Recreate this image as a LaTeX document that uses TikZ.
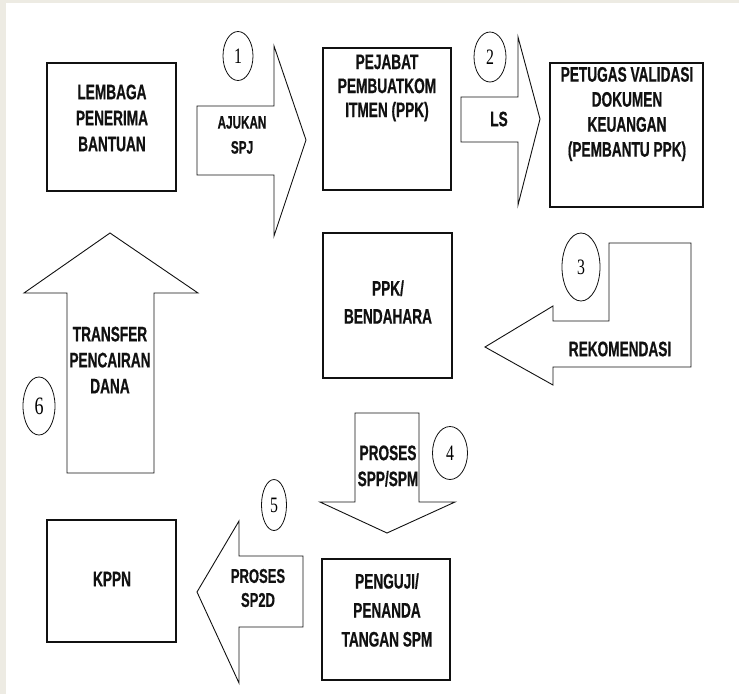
\documentclass[tikz,border=0pt]{standalone}
\usepackage{fontspec}
\setmainfont{Liberation Sans}
\newfontfamily\boxfont{Liberation Sans}[FakeStretch=0.65,BoldFeatures={FakeBold=0.6}]
\newfontfamily\numfont{Liberation Serif}[FakeStretch=0.72]
\usetikzlibrary{shapes.geometric}
\definecolor{framegray}{HTML}{EDEBE3}
\definecolor{inkblack}{HTML}{111111}
\tikzset{
  unitbox/.style={draw=inkblack,line width=2pt,rectangle,inner sep=0pt},
  blockarrow/.style={draw=inkblack,line width=0.9pt,fill=white,line join=miter},
  lbl/.style={align=center,inner sep=0pt,text=inkblack,
    font=\boxfont\bfseries\fontsize{21}{26}\selectfont},
  smalllbl/.style={lbl,font=\boxfont\bfseries\fontsize{18}{25}\selectfont},
  numcirc/.style={ellipse,draw=inkblack,line width=0.8pt,inner sep=0pt,
    font=\numfont\fontsize{22}{22}\selectfont}
}
\begin{document}
\begin{tikzpicture}[x=1pt,y=-1pt]
\useasboundingbox (0,0) rectangle (739,694);
\fill[framegray] (0,0) rectangle (739,694);
\fill[white] (6,3) rectangle (739,694);

% boxes
\node[unitbox,minimum width=129,minimum height=128] (lembaga) at (111.5,127) {};
\node[unitbox,minimum width=128,minimum height=142] (pejabat) at (387,119) {};
\node[unitbox,minimum width=153,minimum height=144] (petugas) at (626.5,135) {};
\node[unitbox,minimum width=129,minimum height=145] (bendahara) at (387.5,305.5) {};
\node[unitbox,minimum width=129,minimum height=122] (kppn) at (111.5,581) {};
\node[unitbox,minimum width=128,minimum height=121] (penguji) at (386,619.5) {};

% block arrows
\draw[blockarrow] (197,106) -- (274,106) -- (274,46) -- (306,140)
  -- (274,236) -- (274,175) -- (197,175) -- cycle;
\draw[blockarrow] (461,97) -- (518,97) -- (518,37) -- (540,119)
  -- (518,205) -- (518,142) -- (461,142) -- cycle;
\draw[blockarrow] (691,243) -- (609,243) -- (609,321) -- (553,321)
  -- (553,306) -- (485,347) -- (553,385) -- (553,367) -- (691,367) -- cycle;
\draw[blockarrow] (355,413) -- (419,413) -- (419,502) -- (455,502)
  -- (387,533) -- (320,502) -- (355,502) -- cycle;
\draw[blockarrow] (303,556) -- (239,556) -- (239,521) -- (197,592)
  -- (239,683) -- (239,627) -- (303,627) -- cycle;
\draw[blockarrow] (67,473) -- (67,293) -- (24,293) -- (110,233)
  -- (198,293) -- (154,293) -- (154,473) -- cycle;

% box texts
\node[lbl] (lembagatxt) at (112,118) {LEMBAGA\\PENERIMA\\BANTUAN};
\node[lbl,font=\boxfont\bfseries\fontsize{21}{24}\selectfont] (pejabattxt) at (387,88) {PEJABAT\\PEMBUATKOM\\ITMEN (PPK)};
\node[lbl,font=\boxfont\bfseries\fontsize{21}{25}\selectfont] (petugastxt) at (627,114) {PETUGAS VALIDASI\\DOKUMEN\\KEUANGAN\\(PEMBANTU PPK)};
\node[lbl,font=\boxfont\bfseries\fontsize{21}{28}\selectfont] (bendaharatxt) at (388,302) {PPK/\\BENDAHARA};
\node[lbl] (kppntxt) at (112,579) {KPPN};
\node[lbl,font=\boxfont\bfseries\fontsize{21}{29}\selectfont] (pengujitxt) at (387,610) {PENGUJI/\\PENANDA\\TANGAN SPM};

% arrow texts
\node[smalllbl] (ajukan) at (242,135) {AJUKAN\\SPJ};
\node[lbl] (ls) at (499,119) {LS};
\node[lbl] (rekomendasi) at (620,349) {REKOMENDASI};
\node[lbl] (prosesspm) at (388,466) {PROSES\\SPP/SPM};
\node[lbl,font=\boxfont\bfseries\fontsize{20}{24}\selectfont] (prosessp2d) at (258,588) {PROSES\\SP2D};
\node[lbl] (transfer) at (110,360) {TRANSFER\\PENCAIRAN\\DANA};

% step numbers
\node[numcirc,minimum width=30,minimum height=49] (num1) at (238,56) {1};
\node[numcirc,minimum width=32,minimum height=50] (num2) at (490,57) {2};
\node[numcirc,minimum width=38,minimum height=68] (num3) at (581,267) {3};
\node[numcirc,minimum width=35,minimum height=53] (num4) at (450,453) {4};
\node[numcirc,minimum width=25,minimum height=51] (num5) at (274,505) {5};
\node[numcirc,minimum width=32,minimum height=58,font=\numfont\fontsize{25}{25}\selectfont] (num6) at (39,406) {6};
\end{tikzpicture}
\end{document}
